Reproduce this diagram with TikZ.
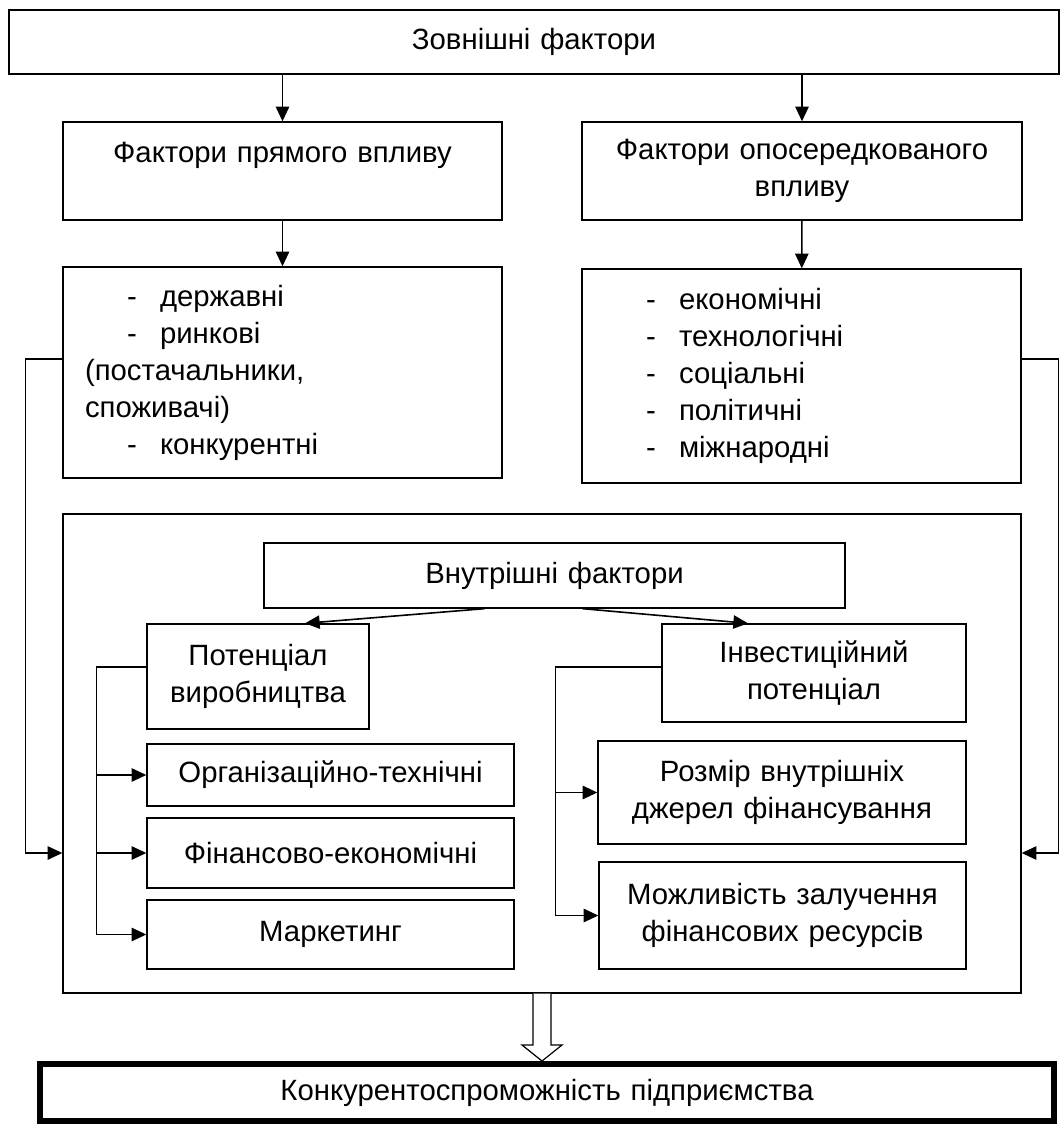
\documentclass[tikz,border=0pt]{standalone}
\usepackage{fontspec}
\setmainfont{Liberation Sans}
\usetikzlibrary{arrows.meta,calc,positioning}
\newcommand{\itm}[1]{\makebox[56.25pt][l]{\hspace*{31.5pt}-}#1}

\begin{document}
\begin{tikzpicture}[x=0.75pt, y=-0.75pt, font=\fontsize{22}{27.75}\selectfont,
    box/.style={rectangle, draw, line width=1pt, inner sep=0pt, align=center},
    listbox/.style={rectangle, draw, line width=1pt, inner xsep=16.5pt, inner ysep=0pt, text width=296.25pt, align=left},
    arr/.style={-{Triangle[length=11pt,width=10pt]}, line width=1.2pt},
    link/.style={line width=0.8pt}]
    \useasboundingbox (0,0) rectangle (1061,1126);

    % external factors
    \node[box, text width=787.5pt, minimum height=48pt] (ext) at (534,42) {Зовнішні фактори};
    \node[box, text width=329.25pt, minimum height=73.5pt] (direct) at (282.5,171) {Фактори прямого впливу\\~};
    \node[box, text width=330pt, minimum height=73.5pt] (indirect) at (802,171) {Фактори опосередкованого\\впливу};

    \node[listbox, minimum height=158.25pt] (listA) at (282.5,372.5) {\itm{державні}\\\itm{ринкові}\\(постачальники,\\споживачі)\\\itm{конкурентні}};
    \node[listbox, minimum height=160.5pt] (listB) at (801.5,376) {\itm{економічні}\\\itm{технологічні}\\\itm{соціальні}\\\itm{політичні}\\\itm{міжнародні}};

    \draw[arr] (ext.south -| direct.north) -- (direct.north);
    \draw[arr] (ext.south -| indirect.north) -- (indirect.north);
    \draw[arr] (direct) -- (listA);
    \draw[arr] (indirect) -- (listB);

    % internal factors
    \node[box, text width=718.5pt, minimum height=359.25pt] (inner) at (542,753.5) {};
    \node[box, text width=435.75pt, minimum height=48.75pt] (intf) at (554.5,575.5) {Внутрішні фактори};
    \node[box, text width=166.5pt, minimum height=78.75pt] (potA) at (258,676.5) {Потенціал\\виробництва};
    \node[box, text width=228pt, minimum height=73.5pt] (invB) at (814,673) {Інвестиційний\\потенціал};
    \node[box, text width=275.25pt, minimum height=46.5pt] (org) at (330.5,775) {Організаційно-технічні};
    \node[box, text width=275.25pt, minimum height=52.5pt] (fin) at (330.5,853) {Фінансово-економічні};
    \node[box, text width=275.25pt, minimum height=51.75pt] (mark) at (330.5,934.5) {Маркетинг};
    \node[box, text width=276pt, minimum height=77.25pt] (size) at (782,792.5) {Розмір внутрішніх\\джерел фінансування};
    \node[box, text width=275.25pt, minimum height=80.25pt] (attr) at (782.5,915.5) {Можливість залучення\\фінансових ресурсів};

    \draw[arr] ($(intf.south)+(-70,0)$) -- ($(potA.north)+(47,0)$);
    \draw[arr] ($(intf.south)+(28,0)$) -- ($(invB.north)+(-66,0)$);

    \draw[link] ($(potA.west)+(0,-9.5)$) -- ++(-50,0) coordinate (lP) -- (lP |- mark);
    \foreach \t in {org,fin,mark}
        \draw[arr] (lP |- \t) -- (\t.west);
    \draw[link] ($(invB.west)+(0,-6)$) -- ++(-106,0) coordinate (lI) -- (lI |- attr);
    \foreach \t in {size,attr}
        \draw[arr] (lI |- \t) -- (\t.west);

    % outer brackets
    \draw[link] ($(listA.west)+(0,-13.5)$) -- ++(-37,0) coordinate (lA) -- (lA |- fin);
    \draw[arr] (lA |- fin) -- (inner.west |- fin);
    \draw[link] ($(listB.east)+(0,-17)$) -- ++(37,0) coordinate (rB) -- (rB |- fin);
    \draw[arr] (rB |- fin) -- (inner.east |- fin);

    % result
    \node[box, line width=4.5pt, text width=760.5pt, minimum height=42.75pt] (final) at (547,1092.5) {Конкурентоспроможність підприємства};
    \coordinate (tip) at (inner.south |- final.north);
    \draw[line width=0.9pt, fill=white] ($(inner.south)+(-9,0)$) -- ($(tip)+(-9,-16)$) -- ($(tip)+(-20,-16)$) -- (tip)
        -- ($(tip)+(20,-16)$) -- ($(tip)+(9,-16)$) -- ($(inner.south)+(9,0)$);
\end{tikzpicture}
\end{document}
